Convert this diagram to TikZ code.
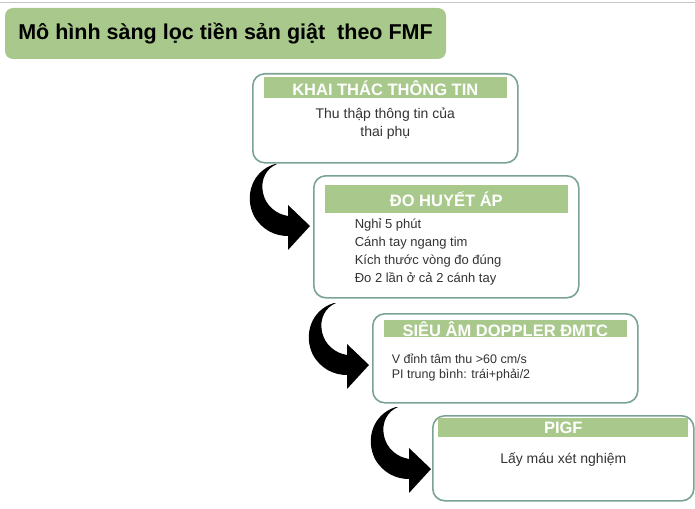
\documentclass[tikz,border=0pt]{standalone}
\usepackage{fontspec}
\setmainfont{Liberation Sans}
\usetikzlibrary{positioning}

\definecolor{leafgreen}{RGB}{169,201,140}
\definecolor{framegreen}{RGB}{122,163,148}
\definecolor{ink}{RGB}{51,51,51}

\begin{document}
\begin{tikzpicture}[x=1pt, y=-1pt,
title/.style={rectangle, rounded corners=8pt, fill=leafgreen, minimum width=441pt,
minimum height=51pt, text=black, font=\fontsize{21.5}{24}\selectfont\bfseries},
%
stage/.style={rectangle, rounded corners=12pt, draw=framegreen, line width=1.6pt,
fill=white, minimum width=265pt, anchor=north west, inner sep=0pt},
%
header/.style={rectangle, fill=leafgreen, minimum width=243pt, inner sep=0pt,
text=white, font=\fontsize{16.5}{18}\selectfont\bfseries},
%
body/.style={inner sep=0pt, text=ink, font=\fontsize{14}{18}\selectfont},
%
bendarrow/.pic={
  \fill[black] (-35,-62) .. controls (-58,-55) and (-66,-30) .. (-56,-10)
    .. controls (-48,4) and (-35,10) .. (-22,10) -- (-22,24) -- (0,0)
    -- (-22,-21) -- (-22,-10) .. controls (-34,-12) and (-44,-20) .. (-47,-33)
    .. controls (-50,-47) and (-43,-58) .. (-33,-62) -- cycle;
}]

\useasboundingbox (0,0) rectangle (695,508);
\draw[gray!45, line width=1pt] (0,3) -- (695,3);

\node[title] (heading) at (225.5,33.5) {Mô hình sàng lọc tiền sản giật~ theo FMF};

%%%%%%%%%%%%%%%%%%%%%%%%%%%%%%%%%%
\node[stage, minimum height=89pt] (info) at (252,73) {};
\node[header, minimum height=21pt, below=4pt of info.north] (infohead) {KHAI THÁC THÔNG TIN};
\node[body, align=center, below=9pt of infohead] (infotext) {Thu thập thông tin của\\thai phụ};

%%%%%%%%%%%%%%%%%%%%%%%%%%%%%%%%%%
\node[stage, minimum height=122pt] (bp) at (313,175) {};
\node[header, minimum height=28pt, below=10pt of bp.north] (bphead) {ĐO HUYẾT ÁP};
\node[body, align=left, font=\fontsize{13}{18}\selectfont,
  below right=5pt and 30pt of bphead.south west] (bptext)
  {Nghỉ 5 phút\\Cánh tay ngang tim\\Kích thước vòng đo đúng\\Đo 2 lần ở cả 2 cánh tay};

%%%%%%%%%%%%%%%%%%%%%%%%%%%%%%%%%%
\node[stage, minimum height=89pt] (doppler) at (372,313) {};
\node[header, minimum height=17pt, below=7pt of doppler.north] (dopplerhead) {SIÊU ÂM DOPPLER ĐMTC};
\node[body, align=left, font=\fontsize{12.5}{15}\selectfont,
  below right=16pt and 8pt of dopplerhead.south west] (dopplertext)
  {V đỉnh tâm thu >60 cm/s\\PI trung bình: trái+phải/2};

%%%%%%%%%%%%%%%%%%%%%%%%%%%%%%%%%%
\node[stage, minimum width=261pt, minimum height=85pt] (pigf) at (432,415) {};
\node[header, minimum width=250pt, minimum height=19pt, below=3pt of pigf.north] (pigfhead) {PIGF};
\node[body, below=15pt of pigfhead] (pigftext) {Lấy máu xét nghiệm};

\begin{scope}
  \pic at ([shift={(-3pt,-51pt)}]bp.north west) {bendarrow};
  \pic at ([shift={(-3pt,-52pt)}]doppler.north west) {bendarrow};
  \pic at ([shift={(-1pt,-54pt)}]pigf.north west) {bendarrow};
\end{scope}

\end{tikzpicture}
\end{document}
